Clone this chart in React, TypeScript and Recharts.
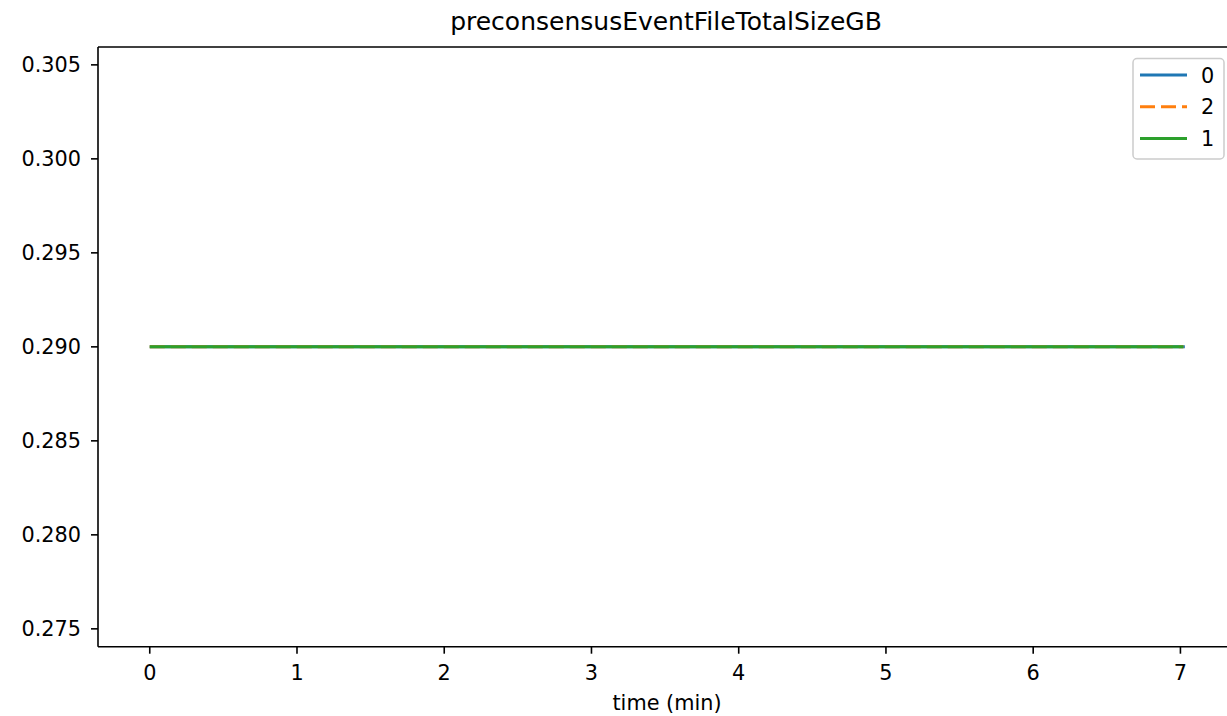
import React from "react";
import { LineChart, Line, XAxis, YAxis, ReferenceLine } from "recharts";

const TITLE = "preconsensusEventFileTotalSizeGB";
const X_LABEL = "time (min)";
const TIMES_0 = [0, 1, 2, 3, 4, 5, 6, 7, 7.03];
const TIMES_2 = [0, 1, 2, 3, 4, 5, 6, 7, 7.02];
const TIMES_1 = [0, 1, 2, 3, 4, 5, 6, 7, 7.02];
const VALUES_0 = [0.29, 0.29, 0.29, 0.29, 0.29, 0.29, 0.29, 0.29, 0.29];
const VALUES_2 = [0.29, 0.29, 0.29, 0.29, 0.29, 0.29, 0.29, 0.29, 0.29];
const VALUES_1 = [0.29, 0.29, 0.29, 0.29, 0.29, 0.29, 0.29, 0.29, 0.29];
const X_TICKS = [0, 1, 2, 3, 4, 5, 6, 7];
const Y_TICKS = [0.275, 0.28, 0.285, 0.29, 0.295, 0.3, 0.305];
const X_DOMAIN: [number, number] = [-0.3515, 7.3815];
const Y_DOMAIN: [number, number] = [0.27405, 0.30595];

const SERIES = [
  { name: "0", times: TIMES_0, values: VALUES_0, color: "#1f77b4", dash: undefined as string | undefined },
  { name: "2", times: TIMES_2, values: VALUES_2, color: "#ff7f0e", dash: "15 6" },
  { name: "1", times: TIMES_1, values: VALUES_1, color: "#2ca02c", dash: undefined as string | undefined },
];

const FONT = "DejaVu Sans, sans-serif";
const FS = 20.8;

const Overlay = () => (
  <svg width={1227} height={716} style={{ position: "absolute", left: 0, top: 0, pointerEvents: "none" }}>
    <text x={666} y={30} textAnchor="middle" fontFamily={FONT} fontSize={25} fill="#000">
      {TITLE}
    </text>
    <text x={667} y={710} textAnchor="middle" fontFamily={FONT} fontSize={FS} fill="#000">
      {X_LABEL}
    </text>
    <rect x={1133} y={58.5} width={91} height={100.5} rx={4} ry={4} fill="#fff" fillOpacity={0.8} stroke="#cccccc" strokeWidth={1.5} />
    {SERIES.map((s, i) => (
      <g key={s.name}>
        <line
          x1={1140}
          x2={1187}
          y1={75 + i * 31.7}
          y2={75 + i * 31.7}
          stroke={s.color}
          strokeWidth={3}
          strokeDasharray={s.dash}
        />
        <text x={1201} y={82.5 + i * 31.7} fontFamily={FONT} fontSize={FS} fill="#000">
          {s.name}
        </text>
      </g>
    ))}
  </svg>
);

export default function App() {
  const tickStyle = { fontFamily: FONT, fontSize: FS, fill: "#000" };
  return (
    <div style={{ position: "fixed", left: 0, top: 0, width: 1227, height: 716, overflow: "hidden", background: "white" }}>
      <LineChart
        width={1250}
        height={716}
        margin={{ top: 47, right: 13.4, left: 8, bottom: 19.3 }}
        style={{ position: "absolute", left: 0, top: 0 }}
      >
        <XAxis
          type="number"
          dataKey="t"
          domain={X_DOMAIN}
          ticks={X_TICKS}
          allowDataOverflow
          height={50}
          stroke="#000"
          tick={tickStyle}
          tickSize={7}
          tickMargin={12}
          tickLine={{ stroke: "#000", strokeWidth: 1.6 }}
          axisLine={{ stroke: "#000", strokeWidth: 1.6 }}
        />
        <YAxis
          type="number"
          domain={Y_DOMAIN}
          ticks={Y_TICKS}
          allowDataOverflow
          width={90}
          stroke="#000"
          tick={tickStyle}
          tickSize={7}
          tickMargin={10}
          tickFormatter={(v: number) => v.toFixed(3)}
          tickLine={{ stroke: "#000", strokeWidth: 1.6 }}
          axisLine={{ stroke: "#000", strokeWidth: 1.6 }}
        />
        <ReferenceLine y={Y_DOMAIN[1]} stroke="#000" strokeWidth={1.6} />
        <ReferenceLine x={X_DOMAIN[1]} stroke="#000" strokeWidth={1.6} />
        {SERIES.map((s) => (
          <Line
            key={s.name}
            data={s.times.map((t, i) => ({ t, v: s.values[i] }))}
            dataKey="v"
            name={s.name}
            stroke={s.color}
            strokeWidth={3}
            strokeDasharray={s.dash}
            dot={false}
            activeDot={false}
            isAnimationActive={false}
          />
        ))}
      </LineChart>
      <Overlay />
    </div>
  );
}
